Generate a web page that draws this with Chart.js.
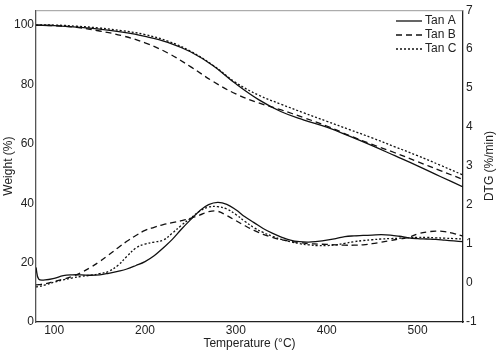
<!DOCTYPE html>
<html lang="en">
<head>
  <meta charset="UTF-8">
  <title>TG / DTG</title>
  <script src="https://cdn.jsdelivr.net/npm/chart.js"></script>
  <style>
    body { margin: 0; background: #fff; }
  </style>
</head>
<body>
  <canvas id="tga" width="498" height="352"></canvas>

  <script>
  // weight curves (left axis)
  const tempW = [80, 100, 125, 150, 175, 200, 225, 250, 275, 300, 325, 350, 375, 400, 425, 450, 475, 500, 525, 550];
  const weightA = [100, 99.8, 99.3, 98.6, 97.6, 96.2, 94.2, 91, 86.3, 80.2, 74.9, 70.8, 68, 65.6, 62.6, 59.4, 56, 52.6, 49, 45.5];
  const weightB = [100, 99.8, 99.2, 98, 96.4, 94, 90.6, 86, 81, 76.8, 73.8, 71.4, 68.8, 66, 62.8, 59.8, 57, 54, 51, 48];
  const weightC = [100, 100, 99.6, 99, 98.1, 96.8, 94.6, 91.2, 86.4, 80.6, 76.4, 73.3, 70.4, 67.6, 64.8, 62, 59, 56, 52.8, 49.5];

  // DTG curves (right axis)
  const tempD = [80, 83, 90, 100, 110, 120, 130, 140, 150, 160, 170, 180, 190, 200, 210, 220, 230, 240, 250, 260,
                 270, 280, 290, 300, 310, 320, 330, 340, 350, 360, 370, 380, 390, 400, 410, 420, 430, 440, 450, 460,
                 470, 480, 490, 500, 510, 520, 530, 540, 550];
  const dtgA = [0.4, 0.1, 0.08, 0.12, 0.19, 0.21, 0.21, 0.2, 0.21, 0.25, 0.3, 0.36, 0.45, 0.55, 0.7, 0.9, 1.12, 1.38, 1.62, 1.85,
                2.01, 2.07, 2.02, 1.88, 1.7, 1.55, 1.4, 1.28, 1.18, 1.1, 1.06, 1.05, 1.07, 1.1, 1.14, 1.19, 1.21, 1.22, 1.23, 1.24,
                1.23, 1.2, 1.16, 1.14, 1.13, 1.12, 1.1, 1.08, 1.06];
  const dtgB = [-0.05, -0.04, -0.02, 0.04, 0.1, 0.17, 0.27, 0.4, 0.55, 0.72, 0.9, 1.07, 1.22, 1.35, 1.43, 1.5, 1.55, 1.6, 1.66, 1.74,
                1.83, 1.84, 1.73, 1.6, 1.47, 1.35, 1.25, 1.17, 1.11, 1.07, 1.04, 1.01, 1.0, 0.99, 0.98, 0.97, 0.97, 0.98, 1.01, 1.05,
                1.09, 1.13, 1.17, 1.26, 1.31, 1.33, 1.32, 1.27, 1.2];
  const dtgC = [-0.1, -0.09, -0.05, 0.02, 0.08, 0.13, 0.17, 0.2, 0.24, 0.3, 0.45, 0.68, 0.9, 1.0, 1.05, 1.1, 1.28, 1.48, 1.66, 1.84,
                1.95, 1.96, 1.9, 1.76, 1.58, 1.42, 1.3, 1.2, 1.12, 1.06, 1.01, 0.98, 0.96, 0.96, 0.98, 1.02, 1.06, 1.09, 1.11, 1.13,
                1.14, 1.15, 1.16, 1.17, 1.17, 1.16, 1.15, 1.14, 1.13];

  const xTicks = [100, 200, 300, 400, 500];
  const weightTicks = [0, 20, 40, 60, 80, 100];
  const seriesNames = ['Tan A', 'Tan B', 'Tan C'];
  const dashes = [[], [6, 4], [2, 2]];

  const pts = (xs, ys) => xs.map((x, i) => ({ x, y: ys[i] }));
  const font = { family: 'Liberation Sans, Arial, sans-serif', size: 12 };

  function line(xs, ys, idx, axis) {
    return {
      label: seriesNames[idx],
      data: pts(xs, ys),
      yAxisID: axis,
      borderColor: '#111',
      borderWidth: 1.3,
      borderDash: dashes[idx],
      pointRadius: 0,
      tension: 0.4,
      fill: false
    };
  }

  // hand-drawn legend, top frame and right axis title (reads bottom-up like the left one)
  const extras = {
    id: 'extras',
    afterDraw(chart) {
      const c = chart.ctx, a = chart.chartArea;
      c.save();
      c.strokeStyle = '#999';
      c.lineWidth = 1;
      c.beginPath();
      c.moveTo(a.left, a.top + 0.5);
      c.lineTo(a.right, a.top + 0.5);
      c.stroke();

      c.font = '12px Liberation Sans, Arial, sans-serif';
      c.fillStyle = '#222';
      c.textBaseline = 'middle';
      seriesNames.forEach((name, i) => {
        const y = 21 + i * 14;
        c.strokeStyle = '#111';
        c.lineWidth = 1.3;
        c.setLineDash(dashes[i]);
        c.beginPath();
        c.moveTo(396, y);
        c.lineTo(422, y);
        c.stroke();
        c.setLineDash([]);
        c.fillText(name, 425, y);
      });

      c.translate(490, (a.top + a.bottom) / 2);
      c.rotate(-Math.PI / 2);
      c.textAlign = 'center';
      c.fillText('DTG (%/min)', 0, 0);
      c.restore();
    }
  };

  new Chart(document.getElementById('tga'), {
    type: 'line',
    data: {
      datasets: [
        line(tempW, weightA, 0, 'y'),
        line(tempW, weightB, 1, 'y'),
        line(tempW, weightC, 2, 'y'),
        line(tempD, dtgA, 0, 'y1'),
        line(tempD, dtgB, 1, 'y1'),
        line(tempD, dtgC, 2, 'y1')
      ]
    },
    options: {
      responsive: false,
      animation: false,
      layout: { padding: { top: 6, left: 0, right: 0, bottom: 0 } },
      plugins: { legend: { display: false }, tooltip: { enabled: false } },
      scales: {
        x: {
          type: 'linear',
          min: 80,
          max: 550,
          afterBuildTicks: s => { s.ticks = xTicks.map(v => ({ value: v })); },
          afterFit: s => { s.height = 30; },
          grid: { display: false, drawTicks: false },
          border: { display: true, color: '#222', width: 1.3 },
          ticks: { font, color: '#222', padding: 1, maxRotation: 0 },
          title: { display: true, text: 'Temperature (°C)', font, color: '#222', padding: { top: 0, bottom: 1 } }
        },
        y: {
          position: 'left',
          min: 0,
          max: 105,
          afterBuildTicks: s => { s.ticks = weightTicks.map(v => ({ value: v })); },
          afterFit: s => { s.width = 36; },
          grid: { display: false, drawTicks: false },
          border: { display: true, color: '#555', width: 1.3 },
          ticks: { font, color: '#222', padding: 2 },
          title: { display: true, text: 'Weight (%)', font, color: '#222', padding: { top: 1, bottom: 0 } }
        },
        y1: {
          position: 'right',
          min: -1,
          max: 7,
          afterFit: s => { s.width = 35; },
          grid: { display: false, drawTicks: false },
          border: { display: true, color: '#222', width: 1.3 },
          ticks: { font, color: '#222', padding: 3, stepSize: 1 },
          title: { display: false }
        }
      }
    },
    plugins: [extras]
  });
  </script>
</body>
</html>
